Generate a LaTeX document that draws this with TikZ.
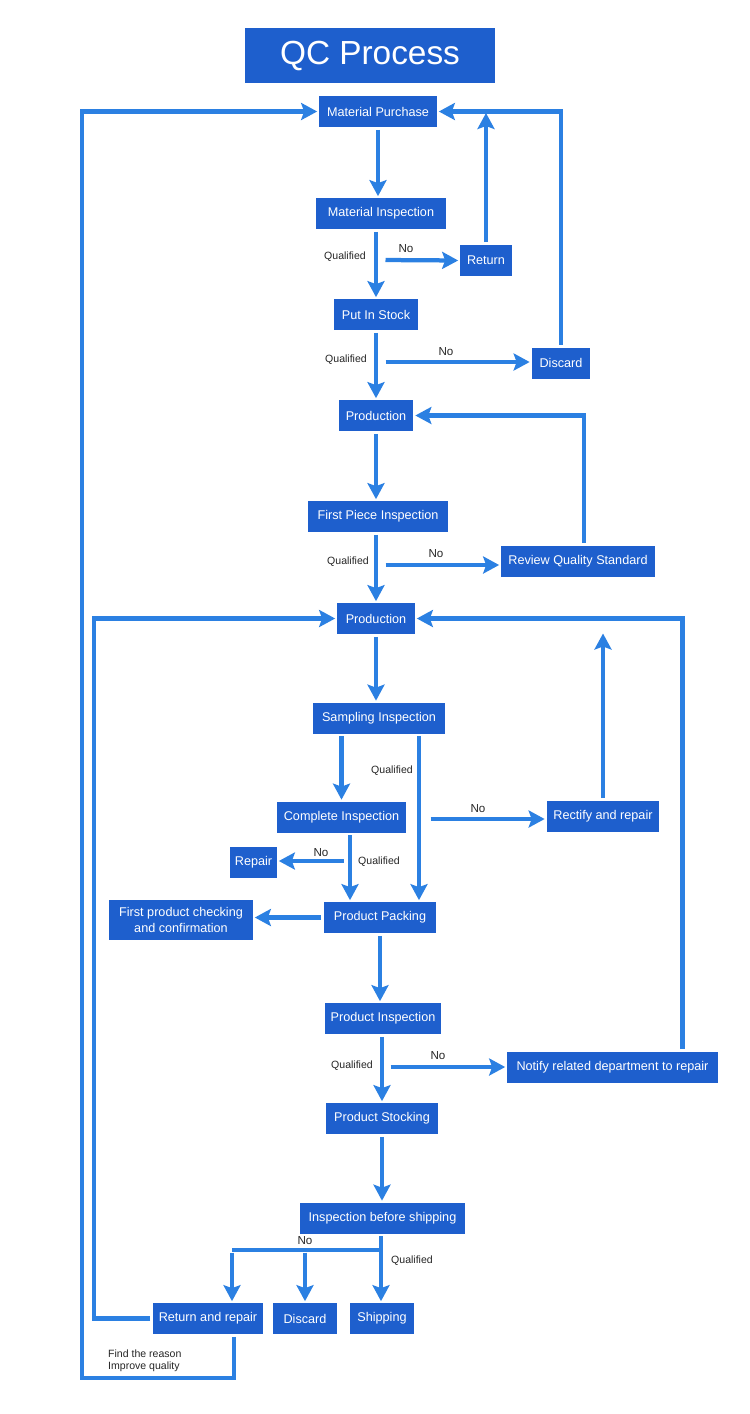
\documentclass[tikz,border=0pt]{standalone}
\usepackage{fontspec}
\setmainfont{Liberation Sans}
\usetikzlibrary{arrows.meta}
\definecolor{qcbox}{RGB}{30,95,205}
\definecolor{qcline}{RGB}{43,128,226}
\tikzset{
	box/.style={fill=qcbox, text=white, font=\fontsize{7.2pt}{8.6pt}\selectfont, minimum height=0.62cm, inner sep=0pt, align=center},
	arr/.style={qcline, line width=0.085cm, -{Stealth[length=0.32cm,width=0.34cm,inset=0.06cm]}, shorten <=0.05cm, shorten >=0.03cm},
	link/.style={qcline, line width=0.085cm},
	qual/.style={font=\fontsize{6pt}{7pt}\selectfont, text=black!85},
	nolbl/.style={font=\fontsize{6.6pt}{8pt}\selectfont, text=black!85}
}

\begin{document}
\begin{tikzpicture}[x=0.02cm, y=-0.02cm]
			%%%%% START %%%%%
			
			\fill[white] (0, 0) rectangle (750, 1414);
			\useasboundingbox (0, 0) rectangle (750, 1414);
			
			\node[box, font=\fontsize{19pt}{22pt}\selectfont, minimum width=5cm, minimum height=1.1cm] (title) at (370, 55.5) {QC Process};
			
			\node[box, minimum width=2.36cm] (mp) at (378, 111.5) {Material Purchase};
			\node[box, minimum width=2.60cm] (mi) at (381, 213.5) {Material Inspection};
			\node[box, minimum width=1.04cm] (ret) at (486, 260.5) {Return};
			\node[box, minimum width=1.68cm] (pis) at (376, 314.5) {Put In Stock};
			\node[box, minimum width=1.18cm] (dis1) at (561, 363) {Discard};
			\node[box, minimum width=1.50cm] (prod1) at (376, 415.5) {Production};
			\node[box, minimum width=2.80cm] (fpi) at (378, 516.5) {First Piece Inspection};
			\node[box, minimum width=3.08cm] (rqs) at (578, 561.5) {Review Quality Standard};
			\node[box, minimum width=1.56cm] (prod2) at (376, 618.5) {Production};
			\node[box, minimum width=2.64cm] (si) at (379, 718) {Sampling Inspection};
			\node[box, minimum width=2.58cm] (ci) at (341.5, 817) {Complete Inspection};
			\node[box, minimum width=2.26cm] (rr) at (603, 816.5) {Rectify and repair};
			\node[box, minimum width=0.94cm] (rep) at (253.5, 862) {Repair};
			\node[box, minimum width=2.24cm] (pp) at (380, 917.5) {Product Packing};
			\node[box, minimum width=2.88cm, minimum height=0.8cm] (fpc) at (181, 920) {First product checking\\and confirmation};
			\node[box, minimum width=2.32cm] (pi) at (383, 1018.5) {Product Inspection};
			\node[box, minimum width=4.22cm] (nt) at (612.5, 1067.5) {Notify related department to repair};
			\node[box, minimum width=2.24cm] (ps) at (382, 1118.5) {Product Stocking};
			\node[box, minimum width=3.30cm] (ibs) at (382.5, 1218) {Inspection before shipping};
			\node[box, minimum width=2.20cm] (rar) at (208, 1318.5) {Return and repair};
			\node[box, minimum width=1.28cm] (dis2) at (305, 1318.5) {Discard};
			\node[box, minimum width=1.28cm] (ship) at (382, 1318.5) {Shipping};
			
			%% branch points
			\coordinate (mi-no) at (383, 260);
			\coordinate (pis-no) at (383, 362);
			\coordinate (fpi-no) at (383, 565);
			\coordinate (si-no) at (428, 819);
			\coordinate (ci-no) at (346, 861);
			\coordinate (pi-no) at (388, 1067);
			\coordinate (rr-up) at (603, 632);
			\coordinate (fork) at (381, 1250);
			\coordinate (fork-l) at (232, 1250);
			\coordinate (loop-bl) at (82, 1378);
			
			%% main line
			\draw[arr] (mp.south) -- (mp.south |- mi.north);
			\draw[arr] (pis.north |- mi.south) -- (pis.north);
			\draw[arr] (pis.south) -- (prod1.north);
			\draw[arr] (prod1.south) -- (prod1.south |- fpi.north);
			\draw[arr] (prod2.north |- fpi.south) -- (prod2.north);
			\draw[arr] (prod2.south) -- (prod2.south |- si.north);
			\draw[arr] (si.south -| ci) -- (ci.north);
			\draw[arr] ([xshift=0.8cm]si.south) -- ([xshift=0.8cm]si.south |- pp.north);
			\draw[arr] ([xshift=0.17cm]ci.south) -- ([xshift=0.17cm]ci.south |- pp.north);
			\draw[arr] (pp.south) -- (pp.south |- pi.north);
			\draw[arr] (ps.north |- pi.south) -- (ps.north);
			\draw[arr] (ps.south) -- (ps.south |- ibs.north);
			\draw[arr] (ibs.south -| fork) -- (fork |- ship.north);
			
			%% no branches
			\draw[arr] (mi-no) -- (ret.west);
			\draw[arr] (pis-no) -- (dis1.west |- pis-no);
			\draw[arr] (fpi-no) -- (rqs.west |- fpi-no);
			\draw[arr] (si-no) -- (rr.west |- si-no);
			\draw[arr] (ci-no) -- (rep.east |- ci-no);
			\draw[arr] (pp.west) -- (fpc.east |- pp.west);
			\draw[arr] (pi-no) -- (nt.west |- pi-no);
			\draw[link] (fork) -- (fork-l);
			\draw[arr] (fork-l) -- (fork-l |- rar.north);
			\draw[arr] (fork-l -| dis2) -- (dis2.north);
			
			%% loops back
			\draw[arr] (ret.north) -- (ret.north |- mp.east);
			\draw[arr] (dis1.north) |- (mp.east);
			\draw[arr] ([xshift=0.12cm]rqs.north) |- (prod1.east);
			\draw[arr] (rr.north) -- (rr.north |- rr-up);
			\draw[arr] ([xshift=1.4cm]nt.north) |- (prod2.east);
			\draw[arr] (rar.west) -- ++(-59, 0) |- (prod2.west);
			\draw[arr] ([xshift=0.52cm]rar.south) |- (loop-bl) |- (mp.west);
			
			%% labels
			\node[qual] (q1) at (345, 257) {Qualified};
			\node[qual] (q2) at (346, 360) {Qualified};
			\node[qual] (q3) at (348, 562) {Qualified};
			\node[qual] (q4) at (392, 771) {Qualified};
			\node[qual] (q5) at (379, 862) {Qualified};
			\node[qual] (q6) at (352, 1066) {Qualified};
			\node[qual] (q7) at (412, 1261) {Qualified};
			\node[nolbl] (n1) at (406, 249) {No};
			\node[nolbl] (n2) at (446, 352) {No};
			\node[nolbl] (n3) at (436, 554) {No};
			\node[nolbl] (n4) at (478, 809) {No};
			\node[nolbl] (n5) at (321, 853) {No};
			\node[nolbl] (n6) at (438, 1056) {No};
			\node[nolbl] (n7) at (305, 1241) {No};
			\node[qual, anchor=west, align=left] (fix) at (102, 1361) {Find the reason\\Improve quality};
			
			%%%%% END %%%%%
\end{tikzpicture}
\end{document}
